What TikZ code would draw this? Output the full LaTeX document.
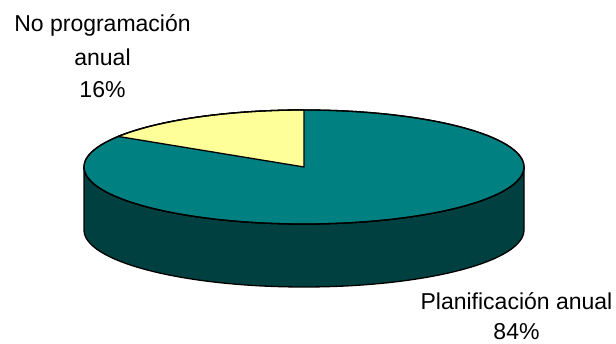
\documentclass[tikz,border=0pt]{standalone}
\usepackage{fontspec}
\setmainfont{Liberation Sans}
\definecolor{pietop}{RGB}{0,128,128}
\definecolor{pieside}{RGB}{0,64,64}
\definecolor{pieyellow}{RGB}{255,255,153}
\tikzset{
  rim/.style={draw=black, line width=1.3pt, line join=round},
  lbl/.style={anchor=base, inner sep=0pt, font=\fontsize{23}{28}\selectfont}
}
\begin{document}
\begin{tikzpicture}[x=1pt,y=1pt]
\useasboundingbox (0,0) rectangle (616,344);
\coordinate (c) at (304,177);
% side band
\draw[rim, fill=pieside] (84,177) -- (84,114)
  arc[start angle=180, end angle=360, x radius=220, y radius=57]
  -- (524,177)
  arc[start angle=0, end angle=-180, x radius=220, y radius=57] -- cycle;
% top
\draw[rim, fill=pietop] (c) ellipse[x radius=220, y radius=57];
% yellow slice
\draw[rim, fill=pieyellow] (c) -- (304,234)
  arc[start angle=90, end angle=147.6, x radius=220, y radius=57] -- cycle;
\draw[rim] (c) ellipse[x radius=220, y radius=57];
% labels
\node[lbl] (l1a) at (102.5,312) {No programación};
\node[lbl] (l1b) at (102.5,278.5) {anual};
\node[lbl] (l1c) at (102.5,246) {16\%};
\node[lbl] (l2a) at (516.5,34) {Planificación anual};
\node[lbl] (l2b) at (516.5,4) {84\%};
\end{tikzpicture}
\end{document}
